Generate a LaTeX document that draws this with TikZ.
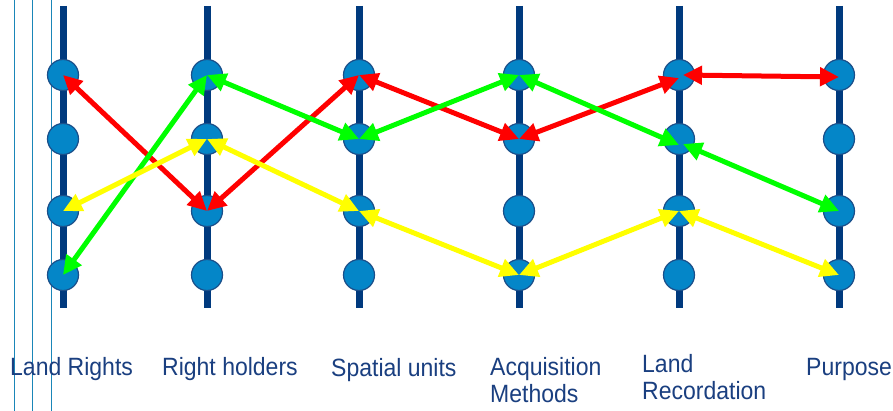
\documentclass[tikz,border=0pt]{standalone}
\usepackage{fontspec}
\setmainfont[FakeStretch=0.92]{Liberation Sans}
\usetikzlibrary{arrows.meta}
\definecolor{axis}{HTML}{003A7E}
\definecolor{dotfill}{HTML}{0486C8}
\definecolor{dotedge}{HTML}{1B4F8A}
\definecolor{guide}{HTML}{1A86B8}
\definecolor{lbl}{HTML}{1A3F80}
\definecolor{ared}{HTML}{FF0000}
\definecolor{agreen}{HTML}{00FF00}
\definecolor{ayellow}{HTML}{FFFF00}
\tikzset{
  axisline/.style={draw=axis, line width=7pt},
  dot/.style={circle, draw=dotedge, fill=dotfill, line width=1.2pt, minimum size=31pt, inner sep=0pt},
  link/.style={line width=5pt, {Triangle[length=19pt,width=18pt]}-{Triangle[length=19pt,width=18pt]}},
  redlink/.style={link, draw=ared, fill=ared},
  greenlink/.style={link, draw=agreen, fill=agreen},
  yellowlink/.style={link, draw=ayellow, fill=ayellow},
  guideline/.style={draw=guide, line width=0.9pt},
  lab/.style={text=lbl, font=\fontsize{25}{27}\selectfont, inner sep=0pt, align=left}
}
\begin{document}
\begin{tikzpicture}[x=1pt,y=-1pt]
\useasboundingbox (0,0) rectangle (893,411);
\fill[white] (0,0) rectangle (893,411);
% guide lines on the left
\coordinate (g1t) at (14,0); \coordinate (g1b) at (14,411);
\coordinate (g2t) at (32,0); \coordinate (g2b) at (32,411);
\coordinate (g3t) at (51,0); \coordinate (g3b) at (51,411);
\draw[guideline] (g1t) -- (g1b);
\draw[guideline] (g2t) -- (g2b);
\draw[guideline] (g3t) -- (g3b);
% axes and dots
\foreach \i/\x in {1/63,2/207,3/359,4/519,5/679,6/839}{
  \coordinate (t\i) at (\x,6);
  \coordinate (b\i) at (\x,308);
  \draw[axisline] (t\i) -- (b\i);
  \foreach \j/\y in {1/75,2/139,3/211,4/275}{
    \node[dot] (c\i\j) at (\x,\y) {};
  }
}
% red
\draw[redlink] (c11.center) -- (c23.center);
\draw[redlink] (c23.center) -- (c31.center);
\draw[redlink] (c31.center) -- (c42.center);
\draw[redlink] (c42.center) -- ([yshift=-3pt]c51.center);
\draw[redlink] ([xshift=4pt]c51.center) -- ([yshift=-2pt]c61.center);
% green
\draw[greenlink] (c14.center) -- (c21.center);
\draw[greenlink] (c21.center) -- (c32.center);
\draw[greenlink] (c32.center) -- (c41.center);
\draw[greenlink] (c41.center) -- ([yshift=-6pt]c52.center);
\draw[greenlink] ([xshift=4pt,yshift=-5pt]c52.center) -- (c63.center);
% yellow
\draw[yellowlink] (c13.center) -- (c22.center);
\draw[yellowlink] (c22.center) -- (c33.center);
\draw[yellowlink] (c33.center) -- (c44.center);
\draw[yellowlink] (c44.center) -- (c53.center);
\draw[yellowlink] (c53.center) -- (c64.center);
% labels
\node[lab, anchor=base west] (l1) at (10,375) {Land Rights};
\node[lab, anchor=base west] (l2) at (162,375) {Right holders};
\node[lab, anchor=base west] (l3) at (331,376) {Spatial units};
\node[lab, anchor=north west] (l4) at (490,357) {Acquisition\\Methods};
\node[lab, anchor=north west] (l5) at (642,354) {Land\\Recordation};
\node[lab, anchor=base west] (l6) at (806,375) {Purpose};
\end{tikzpicture}
\end{document}
